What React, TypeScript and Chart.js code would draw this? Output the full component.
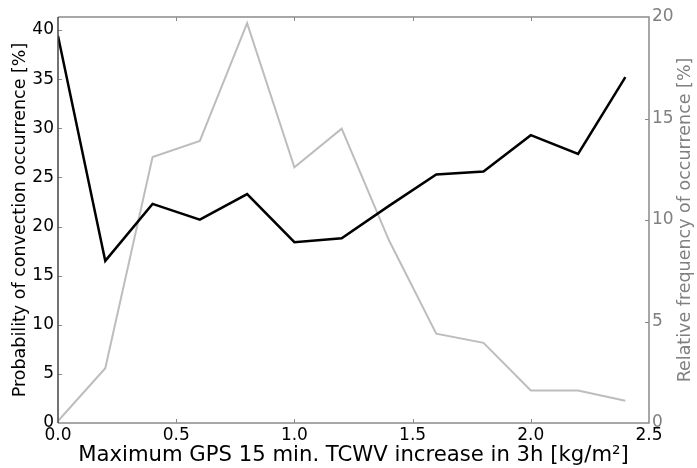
import React, { useEffect, useRef } from "react";
import { Chart, registerables } from "chart.js";

Chart.register(...registerables);

// GPS TCWV increase bins [kg/m²]
const increaseBins = [0.0, 0.2, 0.4, 0.6, 0.8, 1.0, 1.2, 1.4, 1.6, 1.8, 2.0, 2.2, 2.4];
// Probability of convection occurrence [%] (left axis)
const convectionProbability = [39.4, 16.5, 22.3, 20.7, 23.3, 18.4, 18.8, 22.1, 25.3, 25.6, 29.3, 27.4, 35.2];
// Relative frequency of occurrence [%] (right axis)
const relativeFrequency = [0.1, 2.7, 13.1, 13.9, 19.7, 12.6, 14.5, 9.0, 4.4, 3.95, 1.6, 1.6, 1.1];

const xTicks = [0.0, 0.5, 1.0, 1.5, 2.0, 2.5];
const leftTicks = [0, 5, 10, 15, 20, 25, 30, 35, 40];
const rightTicks = [0, 5, 10, 15, 20];

const FONT = "DejaVu Sans";
const GRAY_TEXT = "#808080";

const frameAndTicks = {
  id: "frameAndTicks",
  afterDraw(chart: any) {
    const { ctx, chartArea, scales } = chart;
    const { left, right, top, bottom } = chartArea;
    const len = 4;
    ctx.save();
    ctx.lineWidth = 1;
    // inward ticks
    ctx.strokeStyle = "#888888";
    ctx.beginPath();
    for (const v of xTicks) {
      if (v <= 0 || v >= 2.5) continue;
      const px = Math.round(scales.x.getPixelForValue(v)) + 0.5;
      ctx.moveTo(px, bottom);
      ctx.lineTo(px, bottom - len);
      ctx.moveTo(px, top);
      ctx.lineTo(px, top + len);
    }
    for (const v of rightTicks) {
      if (v <= 0 || v >= 20) continue;
      const py = Math.round(scales.y1.getPixelForValue(v)) + 0.5;
      ctx.moveTo(right, py);
      ctx.lineTo(right - len, py);
    }
    for (const v of leftTicks) {
      if (v <= 0) continue;
      const py = Math.round(scales.y.getPixelForValue(v)) + 0.5;
      ctx.moveTo(left, py);
      ctx.lineTo(left + len, py);
    }
    ctx.stroke();

    // frame
    ctx.lineWidth = 1.5;
    ctx.strokeStyle = "#8a8a8a";
    ctx.beginPath();
    ctx.moveTo(left, top);
    ctx.lineTo(right, top);
    ctx.lineTo(right, bottom);
    ctx.lineTo(left, bottom);
    ctx.stroke();
    ctx.strokeStyle = "#444444";
    ctx.beginPath();
    ctx.moveTo(left, top);
    ctx.lineTo(left, bottom);
    ctx.stroke();

    // right axis title, reading upwards
    ctx.fillStyle = GRAY_TEXT;
    ctx.font = `17.5px "${FONT}"`;
    ctx.textAlign = "center";
    ctx.textBaseline = "middle";
    ctx.translate(685, (top + bottom) / 2);
    ctx.rotate(-Math.PI / 2);
    ctx.fillText("Relative frequency of occurrence [%]", 0, 0);
    ctx.restore();
  },
};

export default function App() {
  const canvasRef = useRef<HTMLCanvasElement | null>(null);

  useEffect(() => {
    const canvas = canvasRef.current;
    if (!canvas) return;
    const chart = new Chart(canvas, {
      type: "line",
      data: {
        datasets: [
          {
            label: "Probability of convection occurrence",
            data: increaseBins.map((x, i) => ({ x, y: convectionProbability[i] })),
            borderColor: "#000000",
            borderWidth: 2.5,
            pointRadius: 0,
            tension: 0,
            yAxisID: "y",
            order: 1,
          },
          {
            label: "Relative frequency of occurrence",
            data: increaseBins.map((x, i) => ({ x, y: relativeFrequency[i] })),
            borderColor: "#bdbdbd",
            borderWidth: 2,
            pointRadius: 0,
            tension: 0,
            yAxisID: "y1",
            order: 2,
          },
        ],
      },
      options: {
        responsive: false,
        animation: false,
        layout: { padding: { top: 17, left: 0, right: 0, bottom: 0 } },
        plugins: { legend: { display: false }, tooltip: { enabled: false } },
        scales: {
          x: {
            type: "linear",
            min: 0,
            max: 2.5,
            afterFit: (s: any) => {
              s.height = 45;
            },
            afterBuildTicks: (s: any) => {
              s.ticks = xTicks.map((v) => ({ value: v }));
            },
            grid: { display: false, drawTicks: false },
            border: { display: false },
            ticks: {
              color: "#000000",
              padding: 2,
              maxRotation: 0,
              autoSkip: false,
              font: { family: FONT, size: 17 },
              callback: (v: any) => Number(v).toFixed(1),
            },
            title: {
              display: true,
              text: "Maximum GPS 15 min. TCWV increase in 3h [kg/m²]",
              color: "#000000",
              font: { family: FONT, size: 21.2 },
              padding: { top: 0, bottom: 0 },
            },
          },
          y: {
            type: "linear",
            position: "left",
            min: 0,
            max: 41.33,
            afterFit: (s: any) => {
              s.width = 58;
            },
            afterBuildTicks: (s: any) => {
              s.ticks = leftTicks.map((v) => ({ value: v }));
            },
            grid: { display: false, drawTicks: false },
            border: { display: false },
            ticks: {
              color: "#000000",
              padding: 4,
              font: { family: FONT, size: 17 },
            },
            title: {
              display: true,
              text: "Probability of convection occurrence [%]",
              color: "#000000",
              font: { family: FONT, size: 17.5 },
              padding: { top: 10, bottom: 0 },
            },
          },
          y1: {
            type: "linear",
            position: "right",
            min: 0,
            max: 20,
            afterFit: (s: any) => {
              s.width = 48;
            },
            afterBuildTicks: (s: any) => {
              s.ticks = rightTicks.map((v) => ({ value: v }));
            },
            grid: { display: false, drawTicks: false },
            border: { display: false },
            ticks: {
              color: GRAY_TEXT,
              padding: 3,
              font: { family: FONT, size: 17 },
            },
          },
        },
      },
      plugins: [frameAndTicks],
    } as any);
    return () => chart.destroy();
  }, []);

  return (
    <div style={{ position: "fixed", left: 0, top: 0, width: 697, height: 468, background: "#ffffff" }}>
      <canvas ref={canvasRef} width={697} height={468} />
    </div>
  );
}
